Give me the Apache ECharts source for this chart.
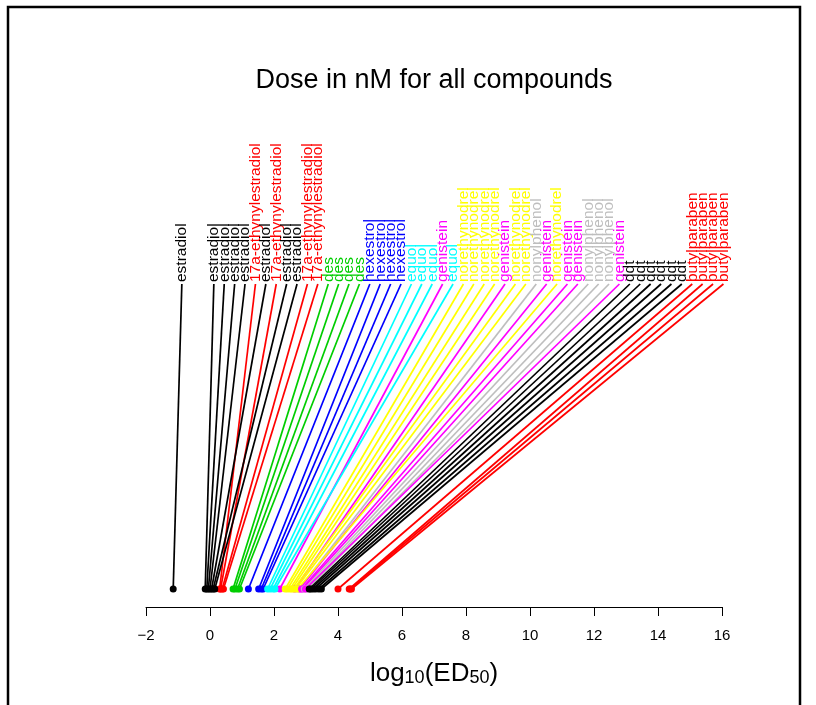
<!DOCTYPE html>
<html>
<head>
<meta charset="utf-8">
<script src="https://cdn.jsdelivr.net/npm/echarts@6/dist/echarts.min.js"></script>
<style>
  html, body { margin: 0; padding: 0; background: #ffffff; }
  #chart { width: 816px; height: 705px; }
</style>
</head>
<body>
<div id="chart"></div>
<script>
// Compounds in plotting order, with their log10(ED50) dose estimates (nM)
const compounds = [
  'estradiol', 'estradiol', 'estradiol', 'estradiol', 'estradiol',
  '17a-ethynylestradiol', 'estradiol', '17a-ethynylestradiol', 'estradiol', 'estradiol',
  '17a-ethynylestradiol', '17a-ethynylestradiol',
  'des', 'des', 'des', 'des',
  'hexestrol', 'hexestrol', 'hexestrol', 'hexestrol',
  'equol', 'equol', 'equol', 'genistein', 'equol',
  'norethynodrel', 'norethynodrel', 'norethynodrel', 'norethynodrel', 'genistein',
  'norethynodrel', 'norethynodrel', 'nonylphenol', 'genistein', 'norethynodrel',
  'genistein', 'genistein', 'nonylphenol', 'nonylphenol', 'nonylphenol', 'genistein',
  'ddt', 'ddt', 'ddt', 'ddt', 'ddt', 'ddt',
  'butylparaben', 'butylparaben', 'butylparaben', 'butylparaben'
];
const log10ED50 = [
  -1.15, -0.15, -0.10, -0.05, 0.00,
  0.30, 0.05, 0.33, 0.10, 0.15,
  0.38, 0.42,
  0.72, 0.78, 0.86, 0.92,
  1.20, 1.52, 1.60, 1.66,
  1.80, 1.88, 1.97, 2.18, 2.03,
  2.35, 2.42, 2.50, 2.56, 2.65,
  2.62, 2.68, 2.78, 2.80, 2.74,
  2.86, 2.90, 2.95, 3.00, 3.05, 2.98,
  3.10, 3.15, 3.22, 3.30, 3.40, 3.48,
  4.00, 4.35, 4.38, 4.42
];
const xTicks = [-2, 0, 2, 4, 6, 8, 10, 12, 14, 16];

// R default palette, one colour per compound
const compoundColors = {
  'estradiol': '#000000',
  '17a-ethynylestradiol': '#FF0000',
  'des': '#00CD00',
  'hexestrol': '#0000FF',
  'equol': '#00FFFF',
  'genistein': '#FF00FF',
  'norethynodrel': '#FFFF00',
  'nonylphenol': '#BEBEBE',
  'ddt': '#000000',
  'butylparaben': '#FF0000'
};

// Spread the label anchors so rotated names do not overlap:
// each one sits just right of its dose, pushed right past the previous label.
const labelOffset = 0.27;   // axis units
const labelGap = 0.325;     // axis units between neighbouring labels
const labelAt = [];
log10ED50.forEach((v, i) => {
  const want = v + labelOffset;
  labelAt.push(i === 0 ? want : Math.max(want, labelAt[i - 1] + labelGap));
});

const seriesData = log10ED50.map((v, i) => [v, 0, labelAt[i]]);

const chart = echarts.init(document.getElementById('chart'), null, { renderer: 'canvas' });

chart.setOption({
  animation: false,
  backgroundColor: '#ffffff',
  grid: { left: 146, right: 94, top: 284, bottom: 116 },
  xAxis: {
    type: 'value',
    min: xTicks[0],
    max: xTicks[xTicks.length - 1],
    interval: 2,
    offset: 18,
    axisLine: { show: true, onZero: false, lineStyle: { color: '#000', width: 1 } },
    axisTick: { show: true, length: 9, lineStyle: { color: '#000', width: 1 } },
    axisLabel: {
      margin: 21,
      fontSize: 15,
      color: '#000',
      fontFamily: 'Liberation Sans',
      formatter: v => (v < 0 ? '\u2212' + Math.abs(v) : String(v))
    },
    splitLine: { show: false },
    name: '{m|log}{s|10}{m|(ED}{s|50}{m|)}',
    nameLocation: 'middle',
    nameGap: 50,
    nameTextStyle: {
      fontFamily: 'Liberation Sans',
      color: '#000',
      rich: {
        m: { fontSize: 26, lineHeight: 30, verticalAlign: 'bottom', fontFamily: 'Liberation Sans', color: '#000' },
        s: { fontSize: 18, lineHeight: 12, verticalAlign: 'bottom', fontFamily: 'Liberation Sans', color: '#000' }
      }
    }
  },
  yAxis: { type: 'value', min: 0, max: 1, show: false },
  graphic: [
    {
      type: 'rect',
      shape: { x: 8, y: 7, width: 792, height: 720 },
      style: { fill: 'none', stroke: '#000', lineWidth: 2.5 },
      silent: true
    },
    {
      type: 'text',
      x: 434, y: 81,
      style: {
        text: 'Dose in nM for all compounds',
        font: '27px "Liberation Sans"',
        fill: '#000',
        align: 'center',
        verticalAlign: 'middle'
      }
    }
  ],
  series: [{
    type: 'custom',
    clip: false,
    encode: { x: 0, y: 1 },
    data: seriesData,
    renderItem: (params, api) => {
      const i = params.dataIndex;
      const color = compoundColors[compounds[i]];
      const pt = api.coord([api.value(0), 0]);
      const top = api.coord([api.value(2), 1]);
      return {
        type: 'group',
        children: [
          {
            type: 'line',
            shape: { x1: pt[0], y1: pt[1], x2: top[0], y2: top[1] },
            style: { stroke: color, lineWidth: 1.7 }
          },
          {
            type: 'circle',
            shape: { cx: pt[0], cy: pt[1], r: 3.5 },
            style: { fill: color }
          },
          {
            type: 'text',
            x: top[0], y: top[1] - 2,
            rotation: Math.PI / 2,
            style: {
              text: compounds[i],
              font: '15.5px "Liberation Sans"',
              fill: color,
              align: 'left',
              verticalAlign: 'middle'
            }
          }
        ]
      };
    }
  }]
});
</script>
</body>
</html>
